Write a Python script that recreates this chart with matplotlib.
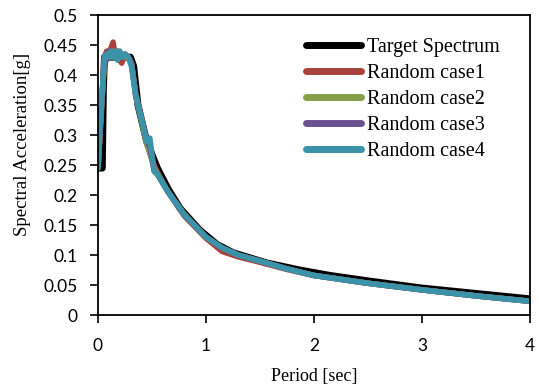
import matplotlib
matplotlib.use("Agg")
import matplotlib.pyplot as plt

# ---- data -----------------------------------------------------------------
target_T = [0, 0.04, 0.05, 0.06, 0.30, 0.33, 0.37, 0.45, 0.55, 0.65, 0.76,
            0.94, 1.10, 1.25, 1.56, 1.87, 2.15, 2.50, 3.00, 3.50, 4.00]
target_sa = [0.245, 0.245, 0.38, 0.43, 0.43, 0.415, 0.35, 0.29, 0.245, 0.21,
             0.178, 0.142, 0.118, 0.104, 0.087, 0.075, 0.066, 0.057, 0.045,
             0.036, 0.027]

rand_T = [0, 0.02, 0.06, 0.08, 0.10, 0.12, 0.14, 0.16, 0.18, 0.20, 0.22,
          0.25, 0.28, 0.31, 0.35, 0.40, 0.45, 0.48, 0.52, 0.55, 0.65, 0.80,
          1.00, 1.15, 1.30, 1.50, 1.75, 2.00, 2.50, 3.00, 3.50, 4.00]
case1 = [0.245, 0.30, 0.43, 0.44, 0.435, 0.445, 0.455, 0.43, 0.44, 0.425,
         0.42, 0.435, 0.43, 0.42, 0.37, 0.33, 0.29, 0.27, 0.25, 0.238, 0.205,
         0.165, 0.128, 0.106, 0.097, 0.088, 0.076, 0.066, 0.053, 0.042,
         0.032, 0.023]
case2 = [0.245, 0.31, 0.425, 0.43, 0.435, 0.43, 0.44, 0.435, 0.43, 0.44,
         0.435, 0.43, 0.43, 0.42, 0.365, 0.325, 0.285, 0.27, 0.245, 0.235,
         0.205, 0.168, 0.13, 0.112, 0.1, 0.09, 0.077, 0.066, 0.053, 0.042,
         0.032, 0.023]
case3 = [0.245, 0.31, 0.43, 0.425, 0.44, 0.43, 0.435, 0.44, 0.43, 0.435,
         0.43, 0.435, 0.43, 0.42, 0.365, 0.33, 0.29, 0.28, 0.24, 0.235,
         0.205, 0.167, 0.13, 0.112, 0.1, 0.09, 0.077, 0.066, 0.053, 0.042,
         0.032, 0.023]
case4 = [0.245, 0.32, 0.43, 0.435, 0.43, 0.44, 0.43, 0.44, 0.425, 0.44,
         0.43, 0.435, 0.43, 0.415, 0.365, 0.33, 0.29, 0.295, 0.24, 0.235,
         0.205, 0.167, 0.13, 0.112, 0.1, 0.09, 0.077, 0.066, 0.053, 0.042,
         0.032, 0.023]

labels = ["Target Spectrum", "Random case1", "Random case2",
          "Random case3", "Random case4"]
colors = ["#000000", "#A9423E", "#86A04A", "#6A5190", "#3A93A8"]

fig = plt.figure(figsize=(5.39, 3.88), dpi=100)
ax = fig.add_axes([0.1818, 0.188, 0.8015, 0.773])

ax.plot(target_T, target_sa, color=colors[0], lw=5, label=labels[0],
        solid_capstyle="round", solid_joinstyle="round")
for vals, lab, c in zip([case1, case2, case3, case4], labels[1:], colors[1:]):
    ax.plot(rand_T, vals, color=c, lw=4, label=lab,
            solid_capstyle="round", solid_joinstyle="round")

ax.set_xlim(0, 4)
ax.set_ylim(0, 0.5)
ax.set_xticks([0, 1, 2, 3, 4])
ax.set_yticks([0, 0.05, 0.1, 0.15, 0.2, 0.25, 0.3, 0.35, 0.4, 0.45, 0.5])
ax.set_yticklabels(["0", "0.05", "0.1", "0.15", "0.2", "0.25", "0.3",
                    "0.35", "0.4", "0.45", "0.5"])
ax.tick_params(direction="out", length=5.5, width=1.2, labelsize=12.5)
ax.tick_params(axis="x", pad=11)
ax.tick_params(axis="y", pad=9)
for lbl in ax.get_xticklabels() + ax.get_yticklabels():
    lbl.set_family("Lato")
for sp in ax.spines.values():
    sp.set_linewidth(1.3)

ax.set_xlabel("Period [sec]", family="Liberation Serif", fontsize=13)
ax.set_ylabel("Spectral Acceleration[g]", family="Liberation Serif",
              fontsize=13.5)
ax.xaxis.set_label_coords(0.5, -0.177)
ax.yaxis.set_label_coords(-0.155, 0.57)

leg = ax.legend(loc="upper left", bbox_to_anchor=(0.482, 0.925),
                frameon=False,
                prop={"family": "Liberation Serif", "size": 14.5},
                handlelength=2.7, handletextpad=0.3, labelspacing=0.35,
                borderpad=0, borderaxespad=0)
for h in leg.get_lines():
    h.set_linewidth(5)
    h.set_solid_capstyle("round")

fig.savefig("out.png", dpi=100)
